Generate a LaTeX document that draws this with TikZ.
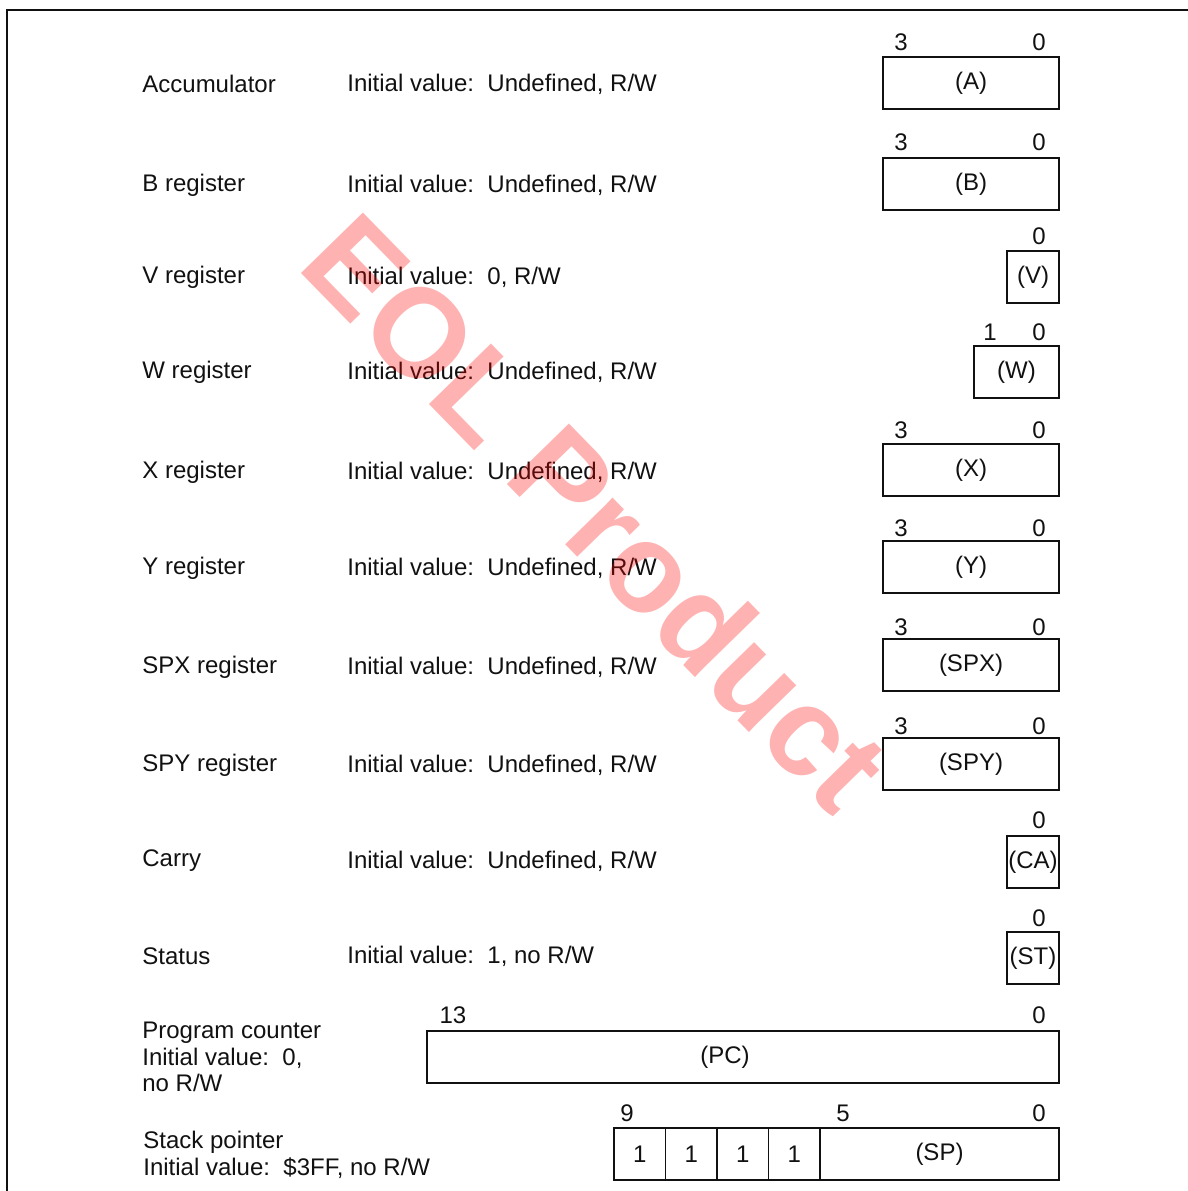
\documentclass[tikz,border=0pt]{standalone}
\usepackage{fontspec}
\setmainfont{Liberation Sans}
\usepackage{xcolor}
\definecolor{ink}{HTML}{111111}
\definecolor{stamp}{HTML}{FF0000}
\usepackage{tikz}
\frenchspacing
\newcommand{\initv}[1]{Initial value:\ \ #1}

\begin{document}
\begin{tikzpicture}[
  x=0.5pt, y=-0.5pt,
  font=\fontsize{12}{13.25}\selectfont,
  reg/.style={draw=ink, line width=0.65pt, inner sep=0pt, outer sep=0pt,
              minimum height=26pt, text=ink},
  bitno/.style={inner sep=0pt, text=ink},
  regtitle/.style={anchor=west, inner sep=0pt, text=ink, align=left},
  frameline/.style={draw=ink, line width=0.65pt}
]
  \useasboundingbox (0,0) rectangle (1188,1191);
  \coordinate (fr) at (7,1191);
  \coordinate (fc) at (7,10);
  \coordinate (ft) at (1188,10);
  \draw[frameline] (fr) -- (fc) -- (ft);

  \node[regtitle] (accN) at (142,84)  {Accumulator};
  \node[regtitle] (accV) at (347,84)  {\initv{Undefined, R/W}};
  \node[reg, minimum width=88pt] (A) at (971,83) {(A)};
  \node[bitno] (A3) at (901,42) {3};
  \node[bitno] (A0) at (1039,42) {0};

  \node[regtitle] (bN) at (142,185) {B register};
  \node[regtitle] (bV) at (347,185) {\initv{Undefined, R/W}};
  \node[reg, minimum width=88pt] (B) at (971,184) {(B)};
  \node[bitno] (B3) at (901,142) {3};
  \node[bitno] (B0) at (1039,142) {0};

  \node[regtitle] (vN) at (142,277) {V register};
  \node[regtitle] (vV) at (347,277) {\initv{0, R/W}};
  \node[reg, minimum width=26pt] (V) at (1033,277) {(V)};
  \node[bitno] (V0) at (1039,236) {0};

  \node[regtitle] (wN) at (142,372) {W register};
  \node[regtitle] (wV) at (347,372) {\initv{Undefined, R/W}};
  \node[reg, minimum width=42.5pt] (W) at (1016.5,372) {(W)};
  \node[bitno] (W1) at (990,332) {1};
  \node[bitno] (W0) at (1039,332) {0};

  \node[regtitle] (xN) at (142,472) {X register};
  \node[regtitle] (xV) at (347,472) {\initv{Undefined, R/W}};
  \node[reg, minimum width=88pt] (X) at (971,470) {(X)};
  \node[bitno] (X3) at (901,430) {3};
  \node[bitno] (X0) at (1039,430) {0};

  \node[regtitle] (yN) at (142,568) {Y register};
  \node[regtitle] (yV) at (347,568) {\initv{Undefined, R/W}};
  \node[reg, minimum width=88pt] (Y) at (971,567) {(Y)};
  \node[bitno] (Y3) at (901,528) {3};
  \node[bitno] (Y0) at (1039,528) {0};

  \node[regtitle] (spxN) at (142,667) {SPX register};
  \node[regtitle] (spxV) at (347,667) {\initv{Undefined, R/W}};
  \node[reg, minimum width=88pt] (SPX) at (971,665) {(SPX)};
  \node[bitno] (SPX3) at (901,627) {3};
  \node[bitno] (SPX0) at (1039,627) {0};

  \node[regtitle] (spyN) at (142,765) {SPY register};
  \node[regtitle] (spyV) at (347,765) {\initv{Undefined, R/W}};
  \node[reg, minimum width=88pt] (SPY) at (971,764) {(SPY)};
  \node[bitno] (SPY3) at (901,726) {3};
  \node[bitno] (SPY0) at (1039,726) {0};

  \node[regtitle] (caN) at (142,861) {Carry};
  \node[regtitle] (caV) at (347,861) {\initv{Undefined, R/W}};
  \node[reg, minimum width=26pt] (CA) at (1033,862) {(CA)};
  \node[bitno] (CA0) at (1039,820) {0};

  \node[regtitle] (stN) at (142,956) {Status};
  \node[regtitle] (stV) at (347,956) {\initv{1, no R/W}};
  \node[reg, minimum width=26pt] (ST) at (1033,958) {(ST)};
  \node[bitno] (ST0) at (1039,918) {0};

  \node[regtitle] (pcN) at (142,1057) {Program counter\\ \initv{0,}\\ no R/W};
  \node[reg, minimum width=316pt] (PC) at (743,1057) {\hspace*{-18pt}(PC)};
  \node[bitno] (PC13) at (453,1015) {13};
  \node[bitno] (PC0) at (1039,1015) {0};

  \node[regtitle] (spN) at (143,1155) {Stack pointer\\ \initv{\$3FF, no R/W}};
  \foreach \i/\cx in {9/639.75, 8/691.25, 7/742.75, 6/794.25}
    \node[reg, minimum width=25.75pt] (SP\i) at (\cx,1154) {1};
  \node[reg, minimum width=119.5pt] (SP) at (939.5,1154) {(SP)};
  \node[bitno] (SPb9) at (627,1113) {9};
  \node[bitno] (SPb5) at (843,1113) {5};
  \node[bitno] (SPb0) at (1039,1113) {0};

  \node[rotate=-45.7, text=stamp, text opacity=0.3, inner sep=0pt,
        font=\fontsize{63}{63}\selectfont\bfseries] (eol) at (597,512) {EOL Product};
\end{tikzpicture}
\end{document}
